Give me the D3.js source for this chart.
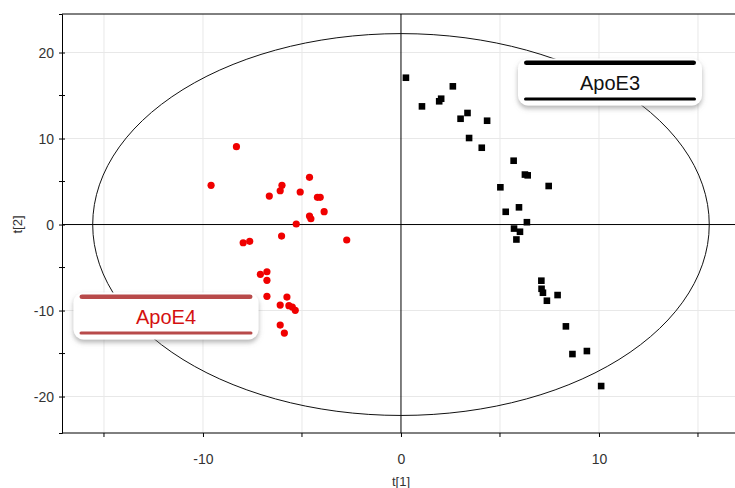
<!DOCTYPE html>
<html>
<head>
<meta charset="utf-8">
<script src="https://cdn.jsdelivr.net/npm/d3@7"></script>
<style>
  body { margin: 0; background: #fff; }
  svg { display: block; font-family: "Liberation Sans", Arial, sans-serif; }
</style>
</head>
<body>
<svg id="score-plot" width="735" height="488"></svg>
<script>
// score values, t[1] / t[2]
let apoE4_t1 = [-8.31, -9.59, -4.62, -6.01, -6.10, -5.09, -6.65, -4.22, -4.08, -3.88, -4.62, -4.55, -5.29, -6.03,
                -2.74, -7.97, -7.64, -7.10, -6.77, -6.77, -6.77, -5.76, -6.10, -5.66, -5.49, -5.34, -6.10, -5.89]
let apoE4_t2 = [9.05, 4.56, 5.49, 4.56, 3.93, 3.78, 3.31, 3.16, 3.16, 1.49, 0.99, 0.67, 0.06, -1.34,
                -1.80, -2.12, -1.95, -5.79, -5.49, -6.49, -8.35, -8.43, -9.36, -9.44, -9.59, -9.98, -11.69, -12.62]

let apoE3_t1 = [0.25, 1.06, 1.93, 2.03, 2.62, 3.01, 3.36, 4.35, 3.44, 4.08, 5.69, 6.26, 6.40, 5.02, 7.46,
                5.96, 5.29, 6.36, 5.71, 6.01, 5.83, 7.09, 7.10, 7.17, 7.37, 7.91, 8.33, 8.66, 9.39, 10.11]
let apoE3_t2 = [17.07, 13.74, 14.33, 14.63, 16.07, 12.30, 12.97, 12.07, 10.06, 8.93, 7.42, 5.81, 5.72, 4.33, 4.48,
                2.00, 1.48, 0.27, -0.47, -0.84, -1.74, -6.53, -7.47, -7.93, -8.86, -8.20, -11.84, -15.06, -14.71, -18.78]

let xTickLabels = [-10, 0, 10]
let xMinorTicks = [-15, -5, 5, 15]
let yTickLabels = [-20, -10, 0, 10, 20]
let yMinorTicks = [-15, -5, 5, 15]

// Hotelling T2 ellipse semi-axes
let ellipseA = 15.57
let ellipseB = 22.2

let width = 735
let height = 488
let margin = { top: 14, right: 0, bottom: 55, left: 62 }
let svg = d3.select("#score-plot")

let x = d3.scaleLinear()
    .domain([-17.12, 16.87])
    .range([margin.left, width - margin.right])

let y = d3.scaleLinear()
    .domain([-24.24, 24.48])
    .range([height - margin.bottom, margin.top])

let defs = svg.append("defs")
let shadow = defs.append("filter")
    .attr("id", "shadow")
    .attr("x", "-20%").attr("y", "-30%")
    .attr("width", "140%").attr("height", "170%")
shadow.append("feDropShadow")
    .attr("dx", 0).attr("dy", 3)
    .attr("stdDeviation", 2.5)
    .attr("flood-color", "#777")
    .attr("flood-opacity", 0.55)

defs.append("clipPath").attr("id", "plotClip")
  .append("rect")
    .attr("x", margin.left)
    .attr("y", margin.top)
    .attr("width", width - margin.left)
    .attr("height", height - margin.bottom - margin.top)

// grid
let xGrid = xTickLabels.concat(xMinorTicks).filter(d => d != 0)
svg.append("g")
  .selectAll("line")
  .data(xGrid)
  .join("line")
    .attr("x1", d => x(d)).attr("x2", d => x(d))
    .attr("y1", margin.top).attr("y2", height - margin.bottom)
    .style("stroke", "#e8e8e8")
    .style("stroke-width", "1px")

svg.append("g")
  .selectAll("line")
  .data(yTickLabels.filter(d => d != 0))
  .join("line")
    .attr("x1", margin.left).attr("x2", width)
    .attr("y1", d => y(d)).attr("y2", d => y(d))
    .style("stroke", "#e8e8e8")
    .style("stroke-width", "1px")

// zero lines
svg.append("line")
    .attr("x1", x(0)).attr("x2", x(0))
    .attr("y1", margin.top).attr("y2", height - margin.bottom)
    .style("stroke", "#000")
    .style("stroke-width", "1px")
svg.append("line")
    .attr("x1", margin.left).attr("x2", width)
    .attr("y1", y(0)).attr("y2", y(0))
    .style("stroke", "#000")
    .style("stroke-width", "1px")

// ellipse
let angles = d3.range(0, 361, 3).map(a => a * Math.PI / 180)
let ellipseLine = d3.line()
    .x(a => x(ellipseA * Math.cos(a)))
    .y(a => y(ellipseB * Math.sin(a)))
svg.append("path")
    .attr("d", ellipseLine(angles))
    .attr("clip-path", "url(#plotClip)")
    .style("fill", "none")
    .style("stroke", "#111")
    .style("stroke-width", "1px")

// frame
svg.append("line")
    .attr("x1", margin.left).attr("x2", width)
    .attr("y1", margin.top).attr("y2", margin.top)
    .style("stroke", "#000")

let xAxis = svg.append("g")
    .attr("class", "x axis")
    .attr("transform", `translate(0,${height - margin.bottom})`)
    .call(d3.axisBottom(x).tickValues(xTickLabels).tickSize(4).tickPadding(17).tickFormat(d => String(d)))
xAxis.select(".domain").attr("d", `M${margin.left},0H${width}`)
svg.append("g")
    .attr("transform", `translate(0,${height - margin.bottom})`)
    .selectAll("line")
    .data(xMinorTicks)
    .join("line")
    .attr("x1", d => x(d)).attr("x2", d => x(d))
    .attr("y1", 0).attr("y2", 4)
    .style("stroke", "#000")

let yAxis = svg.append("g")
    .attr("class", "y axis")
    .attr("transform", `translate(${margin.left},0)`)
    .call(d3.axisLeft(y).tickValues(yTickLabels).tickSize(3).tickPadding(5).tickFormat(d => String(d)))
yAxis.selectAll(".tick line").attr("x1", 3).attr("x2", -3)
svg.append("g")
    .attr("transform", `translate(${margin.left},0)`)
    .selectAll("line")
    .data(yMinorTicks)
    .join("line")
    .attr("x1", -3).attr("x2", 3)
    .attr("y1", d => y(d)).attr("y2", d => y(d))
    .style("stroke", "#000")

svg.selectAll(".axis text")
    .style("font-size", "14px")
    .style("fill", "#333")
    .style("font-family", "Liberation Sans, Arial, sans-serif")

svg.append("text")
    .attr("x", x(0))
    .attr("y", 486)
    .attr("text-anchor", "middle")
    .style("font-size", "13px")
    .style("fill", "#333")
    .text("t[1]")

svg.append("text")
    .attr("transform", `translate(22,${y(0)}) rotate(-90)`)
    .attr("text-anchor", "middle")
    .style("font-size", "13px")
    .style("fill", "#333")
    .text("t[2]")

// points
let apoE4 = apoE4_t1.map((d, i) => ({ t1: d, t2: apoE4_t2[i] }))
let apoE3 = apoE3_t1.map((d, i) => ({ t1: d, t2: apoE3_t2[i] }))

svg.append("g")
    .attr("id", "apoE4")
    .selectAll("circle")
    .data(apoE4)
    .join("circle")
    .attr("cx", d => x(d.t1))
    .attr("cy", d => y(d.t2))
    .attr("r", 3.6)
    .style("fill", "#f00000")

svg.append("g")
    .attr("id", "apoE3")
    .selectAll("rect")
    .data(apoE3)
    .join("rect")
    .attr("x", d => x(d.t1) - 3.3)
    .attr("y", d => y(d.t2) - 3.3)
    .attr("width", 6.6)
    .attr("height", 6.6)
    .style("fill", "#000")

// labels
function labelBox(cx, cy, w, name, barColor, textColor) {
  let g = svg.append("g")
  g.append("rect")
    .attr("x", cx - w / 2).attr("y", cy - 24)
    .attr("width", w).attr("height", 47)
    .attr("rx", 10)
    .style("fill", "#fff")
    .attr("filter", "url(#shadow)")
  g.append("rect")
    .attr("x", cx - w / 2 + 6).attr("y", cy - 22)
    .attr("width", w - 12).attr("height", 4.5)
    .attr("rx", 2.5)
    .style("fill", barColor)
  g.append("rect")
    .attr("x", cx - w / 2 + 6).attr("y", cy + 15)
    .attr("width", w - 12).attr("height", 3)
    .attr("rx", 1.5)
    .style("fill", barColor)
  g.append("text")
    .attr("x", cx).attr("y", cy + 7)
    .attr("text-anchor", "middle")
    .style("font-size", "20px")
    .style("fill", textColor)
    .text(name)
}

labelBox(610, 82.5, 184, "ApoE3", "#000", "#111")
labelBox(166, 316.5, 185, "ApoE4", "#b84a4a", "#d41111")
</script>
</body>
</html>
